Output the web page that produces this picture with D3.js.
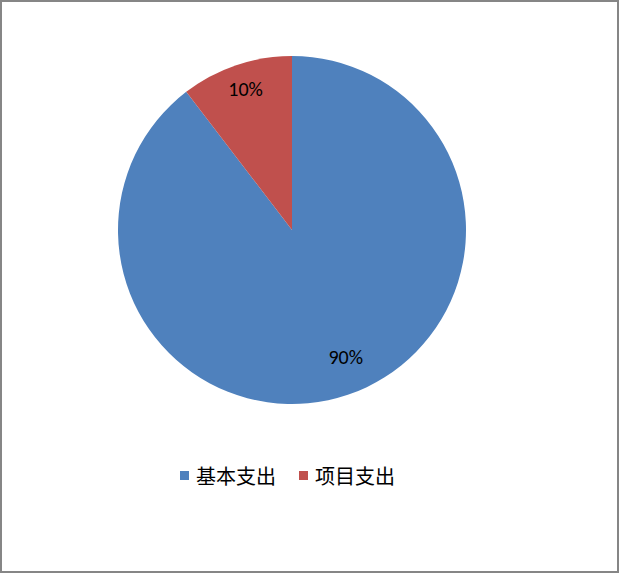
<!DOCTYPE html>
<html><head><meta charset="utf-8">
<script src="https://cdn.jsdelivr.net/npm/d3@7"></script>
<style>body{margin:0;background:#fff}svg{display:block}</style>
</head><body><svg id="c" width="620" height="574"></svg>
<script>
const categories = ["基本支出", "项目支出"];
const values = [89.6, 10.4];
const labels = ["90%", "10%"];
const colors = ["#4F81BD", "#C0504D"];

const svg = d3.select("#c");
svg.append("rect").attr("x",1).attr("y",1).attr("width",617).attr("height",571)
  .attr("fill","#fff").attr("stroke","#868686").attr("stroke-width",2);

const cx = 292, cy = 230, r = 174;
const pie = d3.pie().sort(null).value(d => d.v);
const data = pie(categories.map((c,i)=>({c, v: values[i], l: labels[i]})));
const arc = d3.arc().innerRadius(0).outerRadius(r);
const g = svg.append("g").attr("transform", `translate(${cx},${cy})`);
g.selectAll("path").data(data).enter().append("path")
  .attr("d", arc).attr("fill", (d,i)=>colors[i]);

const lblFrac = [0.80, 0.85];
const lblShift = [[9,-4],[1,-1]];
g.selectAll("text").data(data).enter().append("text")
  .attr("transform", (d,i) => {
    const rr = r*lblFrac[i];
    const [x,y] = d3.arc().innerRadius(rr).outerRadius(rr).centroid(d);
    return `translate(${x+lblShift[i][0]},${y+lblShift[i][1]})`;
  })
  .attr("text-anchor","middle").attr("dy","0.33em")
  .attr("font-family","Carlito, 'Liberation Sans', sans-serif").attr("font-size",20)
  .attr("fill","#000").text(d => d.data.l);

const legend = svg.append("g");
const items = [{x:180},{x:299}];
categories.forEach((c,i)=>{
  legend.append("rect").attr("x", items[i].x).attr("y", 471).attr("width",9).attr("height",9).attr("fill",colors[i]);
  legend.append("text").attr("x", items[i].x+16).attr("y", 484)
    .attr("font-family","'Noto Sans CJK SC', sans-serif").attr("font-size",20).attr("fill","#000").text(c);
});
</script></body></html>
